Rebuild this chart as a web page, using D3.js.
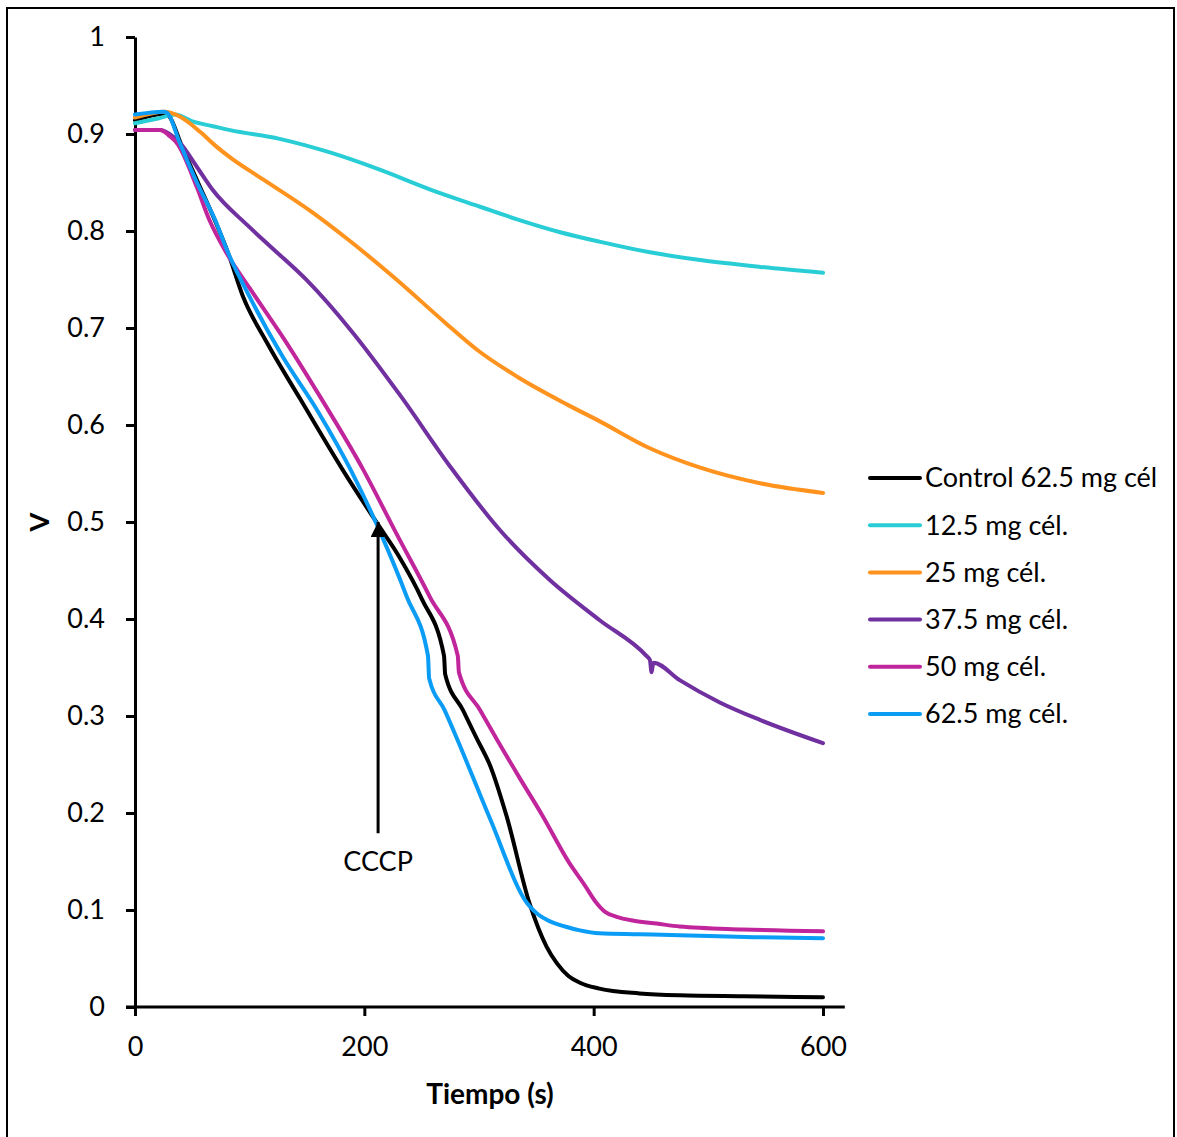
<!DOCTYPE html>
<html>
  <head>
    <meta charset="utf-8" />
    <title>V vs Tiempo</title>
    <style>
      body { margin: 0; background: #fff; }
      svg text { font-family: Lato, "Open Sans", sans-serif; fill: #000; }
      .axis path, .axis line { stroke: #000; stroke-width: 3; }
      .axis text { font-size: 27px; }
    </style>
  </head>
  <body>
    <div id="chart-area"></div>

    <script src="https://d3js.org/d3.v7.min.js"></script>
    <script>
      // series (time in s, V)
      const seriesNames = ["Control 62.5 mg cél", "12.5 mg cél.", "25 mg cél.", "37.5 mg cél.", "50 mg cél.", "62.5 mg cél."];
      const seriesColors = ["#000000", "#29CDD5", "#FF931E", "#7030A0", "#C1259B", "#0B9CF6"];

      const controlT = [0, 25, 30, 40, 55, 70, 81, 94, 115, 144, 181, 211, 230, 250, 269.5, 270.5, 286, 298, 310, 324, 344, 359, 368, 378, 388, 405, 440, 475, 530, 600];
      const controlV = [0.914, 0.921, 0.918, 0.89, 0.85, 0.81, 0.778, 0.733, 0.685, 0.627, 0.554, 0.499, 0.465, 0.421, 0.362, 0.343, 0.306, 0.277, 0.248, 0.197, 0.107, 0.062, 0.045, 0.032, 0.025, 0.019, 0.014, 0.012, 0.011, 0.01];

      const mg125T = [0, 20, 35, 50, 68, 83, 126, 170, 214, 257, 301, 336, 370, 405, 449, 493, 545, 600];
      const mg125V = [0.911, 0.916, 0.92, 0.913, 0.908, 0.904, 0.895, 0.881, 0.863, 0.843, 0.825, 0.811, 0.799, 0.789, 0.778, 0.77, 0.763, 0.757];

      const mg25T = [0, 26, 39, 57, 70, 85, 112, 155, 185, 228, 270, 300, 333, 377, 405, 449, 493, 545, 600];
      const mg25V = [0.917, 0.923, 0.918, 0.902, 0.888, 0.874, 0.853, 0.819, 0.792, 0.75, 0.706, 0.676, 0.65, 0.621, 0.604, 0.576, 0.556, 0.54, 0.53];

      const mg375T = [0, 22, 30, 39, 54, 68, 98, 120, 150, 188, 231, 275, 318, 362, 405, 446, 449, 450.5, 452, 475, 510, 545, 600];
      const mg375V = [0.904, 0.904, 0.9, 0.891, 0.866, 0.842, 0.806, 0.782, 0.749, 0.698, 0.631, 0.557, 0.492, 0.44, 0.399, 0.362, 0.358, 0.345, 0.355, 0.337, 0.314, 0.296, 0.272];

      const mg50T = [0, 22, 30, 37, 54, 65, 81, 100, 132, 161, 199, 228, 257, 281.5, 282.5, 301, 316, 335, 355, 379, 392, 402, 410, 420, 435, 455, 475, 530, 600];
      const mg50V = [0.904, 0.904, 0.898, 0.89, 0.845, 0.811, 0.775, 0.741, 0.685, 0.63, 0.554, 0.488, 0.423, 0.362, 0.345, 0.306, 0.275, 0.237, 0.198, 0.148, 0.126, 0.108, 0.098, 0.093, 0.089, 0.086, 0.083, 0.08, 0.078];

      const mg625T = [0, 25, 28, 39, 54, 70, 81, 100, 129, 159, 188, 214, 237, 255.5, 256.5, 270, 281, 310, 342, 350, 359, 375, 388, 405, 440, 475, 540, 600];
      const mg625V = [0.92, 0.923, 0.922, 0.891, 0.85, 0.811, 0.778, 0.732, 0.67, 0.615, 0.554, 0.489, 0.423, 0.362, 0.339, 0.306, 0.276, 0.193, 0.107, 0.097, 0.09, 0.083, 0.079, 0.076, 0.075, 0.074, 0.072, 0.071];

      const xTicks = [0, 200, 400, 600];
      const yTicks = [0, 0.1, 0.2, 0.3, 0.4, 0.5, 0.6, 0.7, 0.8, 0.9, 1];

      const cccpTime = 212;
      const cccpTip = 0.5;
      const cccpTail = 0.179;

      const allT = [controlT, mg125T, mg25T, mg375T, mg50T, mg625T];
      const allV = [controlV, mg125V, mg25V, mg375V, mg50V, mg625V];
      const series = seriesNames.map((name, i) => ({
        name: name,
        color: seriesColors[i],
        values: allT[i].map((t, j) => ({ t: t, v: allV[i][j] }))
      }));

      const width = 1177;
      const height = 1137;

      const svg = d3.select("#chart-area").append("svg")
        .attr("width", width)
        .attr("height", height);

      // outer frame
      svg.append("rect")
        .attr("x", 7)
        .attr("y", 8)
        .attr("width", 1167)
        .attr("height", 1150)
        .attr("fill", "none")
        .attr("stroke", "#000")
        .attr("stroke-width", 2);

      const xScale = d3.scaleLinear().domain([0, 600]).range([135, 823]);
      const yScale = d3.scaleLinear().domain([0, 1]).range([1007, 37]);

      // y axis
      svg.append("g")
        .attr("class", "axis")
        .attr("transform", "translate(135,0)")
        .call(d3.axisLeft(yScale)
          .tickValues(yTicks)
          .tickSize(9)
          .tickSizeOuter(0)
          .tickPadding(21)
          .tickFormat(d3.format("~g")));

      // x axis (line runs a little past 600 like the original)
      const xAxis = svg.append("g")
        .attr("class", "axis")
        .attr("transform", "translate(0,1007)")
        .call(d3.axisBottom(xScale)
          .tickValues(xTicks)
          .tickSize(9)
          .tickSizeOuter(0)
          .tickPadding(21)
          .tickFormat(d3.format("d")));
      xAxis.select(".domain").remove();
      xAxis.append("line")
        .attr("x1", xScale(0) - 9)
        .attr("x2", xScale(619))
        .attr("y1", 0)
        .attr("y2", 0)
        .attr("stroke", "#000")
        .attr("stroke-width", 3);

      // axis titles
      svg.append("text")
        .attr("transform", "translate(49,522) rotate(-90)")
        .attr("text-anchor", "middle")
        .attr("font-size", 27)
        .attr("font-weight", "bold")
        .text("V");

      svg.append("text")
        .attr("x", 490)
        .attr("y", 1104)
        .attr("text-anchor", "middle")
        .attr("font-size", 28)
        .attr("font-weight", "bold")
        .text("Tiempo (s)");

      // lines
      const line = d3.line()
        .x(d => xScale(d.t))
        .y(d => yScale(d.v))
        .curve(d3.curveMonotoneX);

      svg.append("g")
        .selectAll("path")
        .data(series)
        .join("path")
        .attr("d", d => line(d.values))
        .attr("fill", "none")
        .attr("stroke", d => d.color)
        .attr("stroke-width", 4)
        .attr("stroke-linejoin", "round")
        .attr("stroke-linecap", "round");

      // CCCP arrow
      svg.append("defs").append("marker")
        .attr("id", "arrow")
        .attr("viewBox", "0 0 10 10")
        .attr("refX", 10)
        .attr("refY", 5)
        .attr("markerWidth", 5)
        .attr("markerHeight", 5)
        .attr("markerUnits", "strokeWidth")
        .attr("orient", "auto")
        .append("path")
        .attr("d", "M0,0L10,5L0,10Z")
        .attr("fill", "#000");

      svg.append("line")
        .attr("x1", xScale(cccpTime))
        .attr("x2", xScale(cccpTime))
        .attr("y1", yScale(cccpTail))
        .attr("y2", yScale(cccpTip))
        .attr("stroke", "#000")
        .attr("stroke-width", 3)
        .attr("marker-end", "url(#arrow)");

      svg.append("text")
        .attr("x", xScale(cccpTime))
        .attr("y", 871)
        .attr("text-anchor", "middle")
        .attr("font-size", 27)
        .text("CCCP");

      // legend
      const legend = svg.append("g")
        .selectAll("g")
        .data(series)
        .join("g")
        .attr("transform", (d, i) => `translate(870,${478 + i * 47.2})`);

      legend.append("line")
        .attr("x1", 0)
        .attr("x2", 50)
        .attr("stroke", d => d.color)
        .attr("stroke-width", 4)
        .attr("stroke-linecap", "round");

      legend.append("text")
        .attr("x", 55)
        .attr("dy", "0.35em")
        .attr("font-size", 27)
        .text(d => d.name);
    </script>
  </body>
</html>
